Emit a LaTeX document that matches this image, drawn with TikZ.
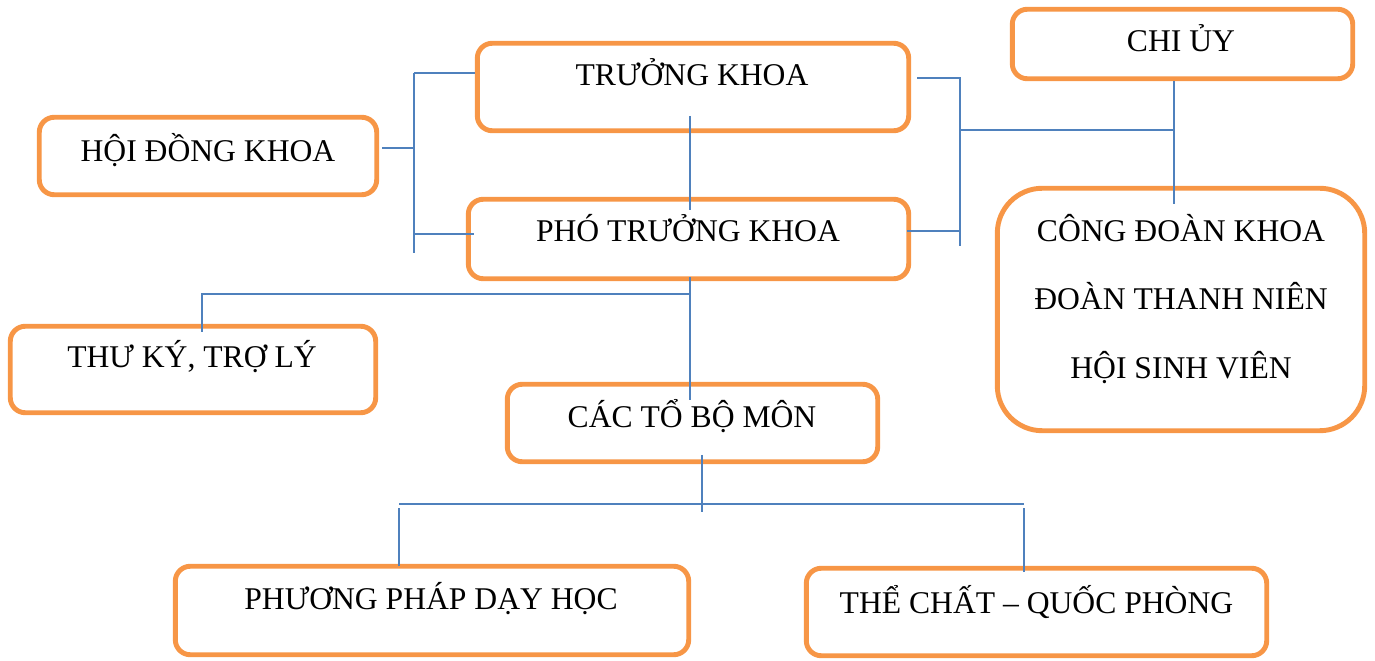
\documentclass[tikz,border=0pt]{standalone}
\usepackage{fontspec}
\setmainfont{Liberation Serif}
\definecolor{boxorange}{RGB}{247,150,70}
\definecolor{linkblue}{RGB}{79,129,189}
\tikzset{
  unitbox/.style={draw=boxorange, line width=2.8pt, rounded corners=0.3cm, fill=white, inner sep=0pt},
  link/.style={draw=linkblue, line width=1.1pt},
  lbl/.style={anchor=base, inner sep=0pt, font=\fontsize{18}{22}\selectfont}
}
\begin{document}
\begin{tikzpicture}[x=0.02cm,y=-0.02cm]
	\useasboundingbox (0,0) rectangle (1375,661);
	% cac khung
	\node[unitbox, minimum width=6.75cm, minimum height=1.55cm] (hdk) at (208,156) {};
	\node[unitbox, minimum width=8.63cm, minimum height=1.75cm] (tk) at (693,87) {};
	\node[unitbox, minimum width=8.81cm, minimum height=1.59cm] (ptk) at (688.5,239) {};
	\node[unitbox, minimum width=6.81cm, minimum height=1.39cm] (cu) at (1182.5,44) {};
	\node[unitbox, rounded corners=0.9cm, minimum width=7.35cm, minimum height=4.85cm] (cd) at (1181,309.5) {};
	\node[unitbox, minimum width=7.31cm, minimum height=1.73cm] (tky) at (193,369.5) {};
	\node[unitbox, minimum width=7.41cm, minimum height=1.55cm] (bm) at (692.5,423) {};
	\node[unitbox, minimum width=10.27cm, minimum height=1.77cm] (pp) at (432,610.5) {};
	\node[unitbox, minimum width=9.21cm, minimum height=1.75cm] (tc) at (1036.5,612) {};
	% chu
	\node[lbl] (hdk-t) at (208,162) {HỘI ĐỒNG KHOA};
	\node[lbl] (tk-t) at (692,86) {TRƯỞNG KHOA};
	\node[lbl] (ptk-t) at (688,242) {PHÓ TRƯỞNG KHOA};
	\node[lbl] (cu-t) at (1181,52) {CHI ỦY};
	\node[lbl] (cd-t1) at (1181,242) {CÔNG ĐOÀN KHOA};
	\node[lbl] (cd-t2) at (1181,310) {ĐOÀN THANH NIÊN};
	\node[lbl] (cd-t3) at (1181,379) {HỘI SINH VIÊN};
	\node[lbl] (tky-t) at (192,368) {THƯ KÝ, TRỢ LÝ};
	\node[lbl] (bm-t) at (692,428) {CÁC TỔ BỘ MÔN};
	\node[lbl] (pp-t) at (431,609) {PHƯƠNG PHÁP DẠY HỌC};
	\node[lbl] (tc-t) at (1036.5,613) {THỂ CHẤT – QUỐC PHÒNG};
	% diem noi
	\coordinate (hdk-r) at (382,148);
	\coordinate (jl) at (414,148);
	\coordinate (jl-t) at (414,73);
	\coordinate (jl-b) at (414,253);
	\coordinate (tk-l) at (475,73);
	\coordinate (ptk-l) at (474,234);
	\coordinate (tk-s) at (690,116);
	\coordinate (ptk-n) at (690,210);
	\coordinate (tk-r) at (917,78);
	\coordinate (jr-t) at (960,78);
	\coordinate (jr-b) at (960,246);
	\coordinate (jr) at (960,130);
	\coordinate (ptk-r) at (907,231);
	\coordinate (cu-s) at (1174,81);
	\coordinate (cd-n) at (1174,204);
	\coordinate (tky-n) at (202,332);
	\coordinate (jm) at (690,294);
	\coordinate (ptk-s) at (690,277);
	\coordinate (bm-n) at (690,400);
	\coordinate (bm-s) at (702,455);
	\coordinate (jb) at (702,512);
	\coordinate (jb-l) at (399,504);
	\coordinate (jb-r) at (1024,504);
	\coordinate (pp-n) at (399,566);
	\coordinate (tc-n) at (1024,572);
	% duong noi
	\draw[link] (hdk-r) -- (jl);
	\draw[link] (jl-t) -- (jl-b);
	\draw[link] (jl-t) -- (tk-l);
	\draw[link] (jl |- ptk-l) -- (ptk-l);
	\draw[link] (tk-s) -- (ptk-n);
	\draw[link] (tk-r) -- (jr-t) -- (jr-b);
	\draw[link] (ptk-r) -- (jr-b |- ptk-r);
	\draw[link] (jr) -- (jr -| cu-s);
	\draw[link] (cu-s) -- (cd-n);
	\draw[link] (tky-n) |- (jm);
	\draw[link] (ptk-s) -- (bm-n);
	\draw[link] (bm-s) -- (jb);
	\draw[link] (jb-l) -- (jb-r);
	\draw[link] (pp-n) -- ++(0,-58);
	\draw[link] (tc-n) -- ++(0,-64);
\end{tikzpicture}
\end{document}
